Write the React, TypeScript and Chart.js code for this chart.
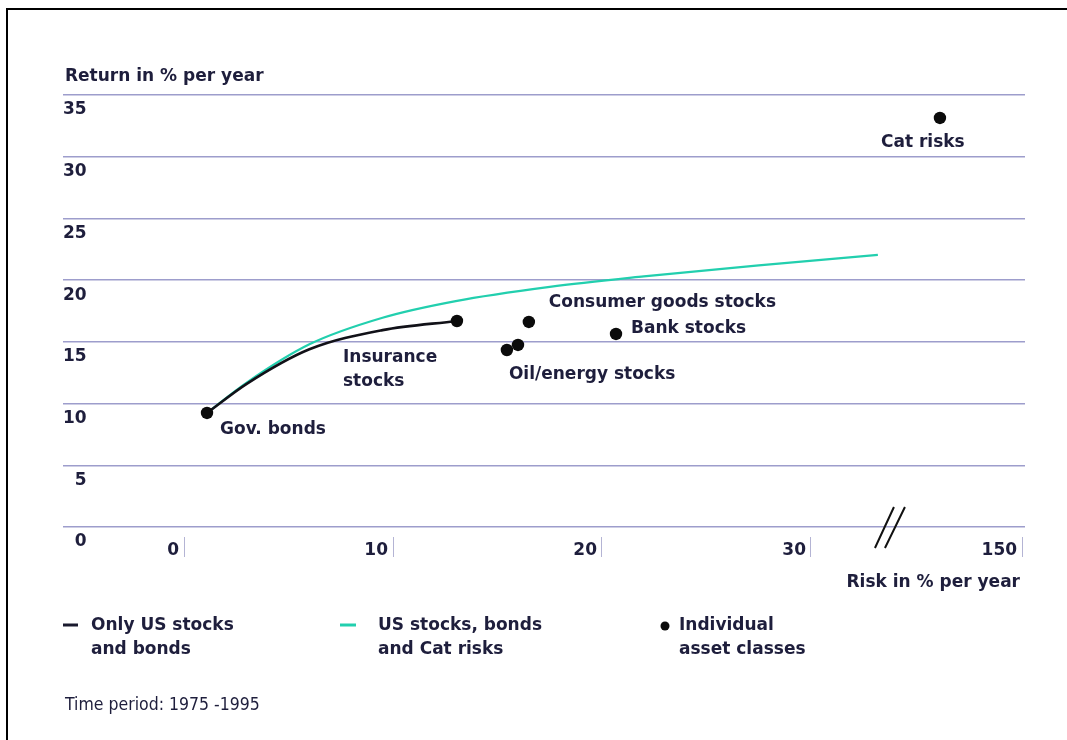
import React, { useEffect, useRef } from 'react';
import { Chart, registerables } from 'chart.js';

Chart.register(...registerables);

// ---- Data ----
// Efficient frontier: only US stocks and bonds (risk %, return %)
const usOnlyRisk = [1.1, 3.0, 6.0, 9.5, 13.06];
const usOnlyReturn = [9.24, 11.6, 14.4, 15.95, 16.69];

// Efficient frontier: US stocks, bonds and Cat risks
const withCatRisk = [1.1, 3.0, 6.0, 9.5, 13.0, 17.5, 22.0, 27.5, 33.2];
const withCatReturn = [9.24, 11.7, 14.8, 16.95, 18.3, 19.45, 20.3, 21.2, 22.05];

// Individual asset classes (x on the broken axis: positions beyond the break are on the 150 segment)
const assetNames = ['Gov. bonds', 'Insurance stocks', 'Oil/energy stocks', 'Oil/energy stocks', 'Consumer goods stocks', 'Bank stocks', 'Cat risks'];
const assetRisk = [1.1, 13.06, 15.45, 15.98, 16.5, 20.67, 36.17];
const assetReturn = [9.24, 16.69, 14.34, 14.75, 16.61, 15.64, 33.14];

// Axis ticks
const xTickValues = [0, 10, 20, 30, 40.1];
const xTickLabels = ['0', '10', '20', '30', '150'];
const yTickValues = [0, 5, 10, 15, 20, 25, 30, 35];
const axisBreakAt = 33.73;

// ---- Styles / layout (not data) ----
const TEXT = '#1e1e3c';
const GRID = '#9d9dcc';
const TEAL = '#22cfae';
const FONT_BOLD = { family: '"DejaVu Sans", sans-serif', weight: 'bold' as const, size: 17 };

const annotationLayout = [
  { point: 0, lines: ['Gov. bonds'], dx: 13, dy: 17 },
  { point: 1, lines: ['Insurance', 'stocks'], dx: -114, dy: 37 },
  { point: 2, lines: ['Oil/energy stocks'], dx: 2, dy: 25 },
  { point: 4, lines: ['Consumer goods stocks'], dx: 20, dy: -19 },
  { point: 5, lines: ['Bank stocks'], dx: 15, dy: -5 },
  { point: 6, lines: ['Cat risks'], dx: -59, dy: 25 },
];

const overlayPlugin = {
  id: 'overlay',
  afterDatasetsDraw(chart: any) {
    const { ctx, chartArea, scales } = chart;
    const xs = scales.x;
    const ys = scales.y;
    ctx.save();
    ctx.font = 'bold 17px "DejaVu Sans", sans-serif';
    ctx.fillStyle = TEXT;
    ctx.textBaseline = 'middle';
    ctx.textAlign = 'left';
    // point annotations
    for (const a of annotationLayout) {
      const px = xs.getPixelForValue(assetRisk[a.point]);
      const py = ys.getPixelForValue(assetReturn[a.point]);
      a.lines.forEach((t, i) => ctx.fillText(t, px + a.dx, py + a.dy + i * 24));
    }
    // axis break marker
    const bx = xs.getPixelForValue(axisBreakAt);
    const by = ys.getPixelForValue(0);
    ctx.strokeStyle = '#111';
    ctx.lineWidth = 2;
    ctx.beginPath();
    ctx.moveTo(bx - 14, by + 21);
    ctx.lineTo(bx + 5, by - 20);
    ctx.moveTo(bx - 4, by + 21);
    ctx.lineTo(bx + 16, by - 20);
    ctx.stroke();

    // axis titles
    ctx.fillText('Return in % per year', chartArea.left + 2, chartArea.top - 18);
    ctx.textAlign = 'right';
    ctx.fillText('Risk in % per year', chartArea.right - 5, chartArea.bottom + 46);

    // legend
    ctx.textAlign = 'left';
    const ly = 626;
    ctx.lineWidth = 3;
    ctx.strokeStyle = '#1a1a2e';
    ctx.beginPath();
    ctx.moveTo(63, ly - 1);
    ctx.lineTo(78, ly - 1);
    ctx.stroke();
    ctx.strokeStyle = TEAL;
    ctx.beginPath();
    ctx.moveTo(340, ly - 1);
    ctx.lineTo(356, ly - 1);
    ctx.stroke();
    ctx.fillStyle = '#0b0b0b';
    ctx.beginPath();
    ctx.arc(665, ly, 4.5, 0, Math.PI * 2);
    ctx.fill();
    ctx.fillStyle = TEXT;
    ctx.fillText('Only US stocks', 91, ly);
    ctx.fillText('and bonds', 91, ly + 24);
    ctx.fillText('US stocks, bonds', 378, ly);
    ctx.fillText('and Cat risks', 378, ly + 24);
    ctx.fillText('Individual', 679, ly);
    ctx.fillText('asset classes', 679, ly + 24);

    ctx.font = '17.5px "DejaVu Sans Condensed", "DejaVu Sans", sans-serif';
    ctx.fillText('Time period: 1975 -1995', 65, 705);

    // frame
    ctx.strokeStyle = '#000';
    ctx.lineWidth = 2;
    ctx.beginPath();
    ctx.moveTo(7, 740);
    ctx.lineTo(7, 9);
    ctx.lineTo(1067, 9);
    ctx.stroke();
    ctx.restore();
  },
};

export default function App() {
  const ref = useRef<HTMLCanvasElement>(null);
  useEffect(() => {
    const canvas = ref.current;
    if (!canvas) return;
    const chart = new Chart(canvas, {
      type: 'scatter',
      data: {
        datasets: [
          {
            label: 'Individual asset classes',
            data: assetRisk.map((x, i) => ({ x, y: assetReturn[i] })),
            backgroundColor: '#0b0b0b',
            borderWidth: 0,
            pointRadius: 6.2,
            showLine: false,
            order: 0,
          },
          {
            label: 'Only US stocks and bonds',
            data: usOnlyRisk.map((x, i) => ({ x, y: usOnlyReturn[i] })),
            borderColor: '#111118',
            borderWidth: 2.6,
            pointRadius: 0,
            showLine: true,
            cubicInterpolationMode: 'monotone',
            order: 1,
          },
          {
            label: 'US stocks, bonds and Cat risks',
            data: withCatRisk.map((x, i) => ({ x, y: withCatReturn[i] })),
            borderColor: TEAL,
            borderWidth: 2.2,
            pointRadius: 0,
            showLine: true,
            cubicInterpolationMode: 'monotone',
            order: 2,
          },
        ] as any,
      },
      options: {
        animation: false,
        responsive: true,
        maintainAspectRatio: false,
        events: [],
        layout: { padding: { left: 63, top: 95, right: 42, bottom: 173 } },
        plugins: { legend: { display: false }, tooltip: { enabled: false } },
        scales: {
          x: {
            type: 'linear',
            min: -5.79,
            max: 40.24,
            afterBuildTicks: (s: any) => {
              s.ticks = xTickValues.map((v) => ({ value: v }));
            },
            afterFit: (s: any) => {
              s.height = 30;
            },
            border: { display: false },
            grid: { drawOnChartArea: false, drawTicks: true, tickLength: 20, color: '#b4b4d4', lineWidth: 1 },
            ticks: {
              align: 'end',
              labelOffset: -5,
              padding: -17,
              autoSkip: false,
              maxRotation: 0,
              minRotation: 0,
              font: FONT_BOLD,
              color: TEXT,
              callback: (_v: any, i: number) => xTickLabels[i],
            },
          },
          y: {
            type: 'linear',
            min: -0.81,
            max: 35,
            afterBuildTicks: (s: any) => {
              s.ticks = yTickValues.map((v) => ({ value: v }));
            },
            afterFit: (s: any) => {
              s.width = 0;
            },
            border: { display: false },
            grid: { color: GRID, lineWidth: 1.5, drawTicks: false },
            ticks: {
              mirror: true,
              crossAlign: 'far',
              padding: 0,
              labelOffset: 15,
              font: FONT_BOLD,
              color: TEXT,
              callback: (v: any) => String(v),
            },
          },
        },
      } as any,
      plugins: [overlayPlugin],
    });
    return () => chart.destroy();
  }, []);
  return (
    <div style={{ position: 'absolute', left: 0, top: 0, width: 1067, height: 740, background: '#fff' }}>
      <canvas ref={ref} />
    </div>
  );
}
